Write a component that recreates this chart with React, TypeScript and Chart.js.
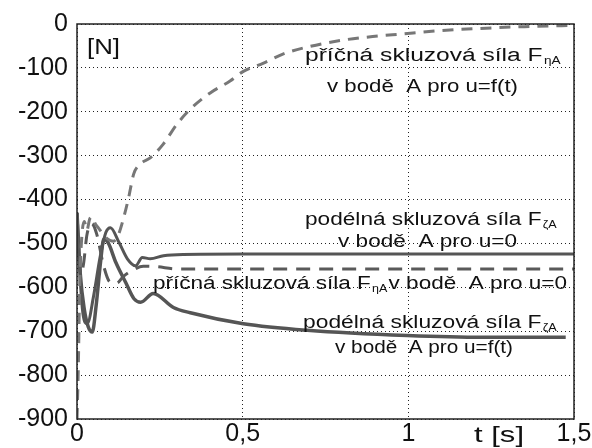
import React, { useEffect, useRef } from "react";
import { Chart, registerables } from "chart.js";

Chart.register(...registerables);

// ---- data ----
const xTickLabels: Record<string, string> = { "0": "0", "0.5": "0,5", "1": "1", "1.5": "1,5" };
const yTickValues = [0, -100, -200, -300, -400, -500, -600, -700, -800, -900];

// příčná skluzová síla F_ηA, u = f(t)  (dashed, rising)
const tPricnaFt = [0, 0.004, 0.008, 0.014, 0.022, 0.03, 0.038, 0.046, 0.055, 0.065, 0.085, 0.11, 0.125, 0.141, 0.156, 0.171, 0.191, 0.221, 0.261, 0.302, 0.342, 0.402, 0.462, 0.502, 0.563, 0.623, 0.704, 0.8, 0.9, 0.976, 1.1, 1.218, 1.35, 1.5];
const vPricnaFt = [-900, -780, -600, -490, -450, -470, -445, -440, -455, -465, -485, -495, -480, -441, -395, -342, -319, -305, -273, -228, -194, -157, -130, -108, -89, -68, -51, -37, -28, -23, -15, -10, -6, -3];

// příčná skluzová síla F_ηA, u = 0  (dashed, settles)
const tPricnaU0 = [0, 0.006, 0.012, 0.02, 0.03, 0.045, 0.06, 0.08, 0.1, 0.12, 0.14, 0.17, 0.2, 0.24, 0.3, 0.5, 1.0, 1.5];
const vPricnaU0 = [-430, -520, -570, -545, -480, -455, -480, -550, -588, -590, -575, -560, -552, -553, -558, -558, -558, -558];

// podélná skluzová síla F_ζA, u = 0  (solid, settles)
const tPodelnaU0 = [0, 0.008, 0.018, 0.031, 0.05, 0.07, 0.087, 0.101, 0.127, 0.152, 0.177, 0.197, 0.221, 0.261, 0.32, 0.5, 1.0, 1.5];
const vPodelnaU0 = [-430, -560, -660, -683, -620, -530, -475, -464, -498, -535, -551, -532, -535, -528, -525, -524, -524, -524];

// podélná skluzová síla F_ζA, u = f(t)  (solid, slowly decreasing)
const tPodelnaFt = [0, 0.01, 0.022, 0.034, 0.046, 0.058, 0.071, 0.081, 0.095, 0.117, 0.147, 0.172, 0.192, 0.23, 0.291, 0.342, 0.502, 0.695, 0.997, 1.227, 1.475];
const vPodelnaFt = [-430, -570, -650, -690, -702, -640, -543, -490, -500, -543, -589, -626, -634, -614, -646, -658, -683, -698, -710, -714, -714];

const pts = (t: number[], v: number[]) => t.map((x, i) => ({ x, y: v[i] }));

// ---- text annotations (layout) ----
type Run = [string, boolean];
const annotations: { runs: Run[]; x0: number; x1: number; y: number; size: number }[] = [
  { runs: [["[N]", false]], x0: 87, x1: 120, y: 54, size: 22 },
  { runs: [["příčná skluzová síla F", false], ["ηA", true]], x0: 305, x1: 562, y: 61, size: 18 },
  { runs: [["v bodě  A pro u=f(t)", false]], x0: 327, x1: 518, y: 92, size: 18 },
  { runs: [["podélná skluzová síla F", false], ["ζA", true]], x0: 305, x1: 558, y: 225, size: 18 },
  { runs: [["v bodě  A pro u=0", false]], x0: 338, x1: 517, y: 247, size: 18 },
  { runs: [["příčná skluzová síla F", false], ["ηA", true], ["v bodě  A pro u=0", false]], x0: 153, x1: 567, y: 289, size: 18 },
  { runs: [["podélná skluzová síla F", false], ["ζA", true]], x0: 303, x1: 558, y: 328, size: 18 },
  { runs: [["v bodě  A pro u=f(t)", false]], x0: 335, x1: 513, y: 353, size: 18 },
  { runs: [["t [s]", false]], x0: 474, x1: 524, y: 442, size: 22 },
];

const FONT = "'Liberation Sans', Arial, sans-serif";

const textPlugin = {
  id: "texts",
  afterDraw(chart: any) {
    const ctx: CanvasRenderingContext2D = chart.ctx;
    const a = chart.chartArea;
    // frame
    ctx.save();
    ctx.strokeStyle = "#222";
    ctx.lineWidth = 1.5;
    ctx.strokeRect(a.left, a.top, a.right - a.left, a.bottom - a.top);
    ctx.restore();

    for (const an of annotations) {
      ctx.save();
      ctx.fillStyle = "#111";
      ctx.textBaseline = "alphabetic";
      ctx.textAlign = "left";
      let w = 0;
      for (const [s, sub] of an.runs) {
        ctx.font = `${sub ? 10 : an.size}px ${FONT}`;
        w += ctx.measureText(s).width + (sub ? 2 : 0);
      }
      const sx = (an.x1 - an.x0) / w;
      ctx.translate(an.x0, an.y);
      ctx.scale(sx, 1);
      let x = 0;
      for (const [s, sub] of an.runs) {
        ctx.font = `${sub ? 10 : an.size}px ${FONT}`;
        if (sub) x += 1;
        ctx.fillText(s, x, sub ? 3 : 0);
        x += ctx.measureText(s).width + (sub ? 1 : 0);
      }
      ctx.restore();
    }
  },
};

export default function App() {
  const ref = useRef<HTMLCanvasElement | null>(null);
  useEffect(() => {
    if (!ref.current) return;
    const solid = "#555";
    const chart = new Chart(ref.current, {
      type: "line",
      data: {
        datasets: [
          {
            label: "příčná skluzová síla FηA v bodě A pro u=f(t)",
            data: pts(tPricnaFt, vPricnaFt),
            borderColor: "#777",
            borderWidth: 3,
            borderDash: [11, 8],
            pointRadius: 0,
            cubicInterpolationMode: "monotone",
          },
          {
            label: "příčná skluzová síla FηA v bodě A pro u=0",
            data: pts(tPricnaU0, vPricnaU0),
            borderColor: "#5a5a5a",
            borderWidth: 3,
            borderDash: [14, 9],
            pointRadius: 0,
            cubicInterpolationMode: "monotone",
          },
          {
            label: "podélná skluzová síla FζA v bodě A pro u=0",
            data: pts(tPodelnaU0, vPodelnaU0),
            borderColor: solid,
            borderWidth: 3,
            pointRadius: 0,
            cubicInterpolationMode: "monotone",
          },
          {
            label: "podélná skluzová síla FζA v bodě A pro u=f(t)",
            data: pts(tPodelnaFt, vPodelnaFt),
            borderColor: solid,
            borderWidth: 3.5,
            pointRadius: 0,
            cubicInterpolationMode: "monotone",
          },
        ],
      },
      options: {
        animation: false,
        responsive: false,
        layout: { padding: { left: 0, top: 23, right: 18, bottom: 0 } },
        plugins: { legend: { display: false }, tooltip: { enabled: false } },
        scales: {
          x: {
            type: "linear",
            min: 0,
            max: 1.5,
            afterFit: (s: any) => { s.height = 29; },
            afterBuildTicks: (s: any) => { s.ticks = Object.keys(xTickLabels).map((k) => ({ value: Number(k) })); },
            ticks: {
              callback: (v: any) => xTickLabels[String(v)] ?? "",
              font: { family: FONT, size: 25 },
              color: "#111",
              padding: 0,
              maxRotation: 0,
              autoSkip: false,
            },
            grid: { color: "#222", lineWidth: 1, drawTicks: false },
            border: { display: false, dash: [1, 3] },
          },
          y: {
            type: "linear",
            min: -900,
            max: 0,
            afterFit: (s: any) => { s.width = 77; },
            afterBuildTicks: (s: any) => { s.ticks = yTickValues.map((v) => ({ value: v })); },
            ticks: {
              font: { family: FONT, size: 25 },
              color: "#111",
              padding: 9,
              autoSkip: false,
            },
            grid: { color: "#222", lineWidth: 1, drawTicks: false },
            border: { display: false, dash: [1, 3] },
          },
        },
      },
      plugins: [textPlugin],
    } as any);
    return () => chart.destroy();
  }, []);
  return (
    <div style={{ position: "fixed", left: 0, top: 0, width: 592, height: 448, background: "#fff" }}>
      <canvas ref={ref} width={592} height={448} />
    </div>
  );
}
